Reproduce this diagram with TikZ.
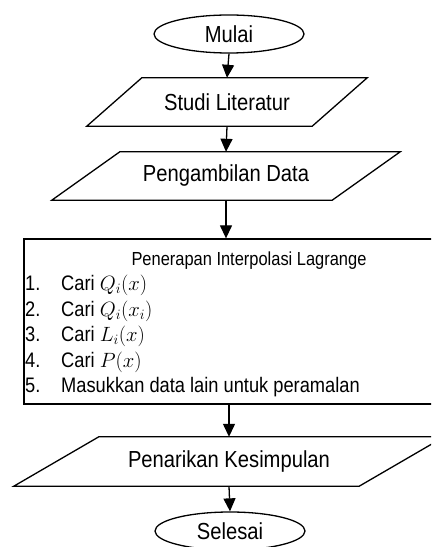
\documentclass[tikz,border=0pt]{standalone}
\usepackage{fontspec}
\setmainfont[FakeStretch=0.87]{Liberation Sans}
\usetikzlibrary{arrows.meta,shapes.geometric}
\newcommand\drawpara[2]{\draw[shp] ([xshift=-#2]#1.south west) -- ([xshift=-#2]#1.south east) -- ([xshift=#2]#1.north east) -- ([xshift=#2]#1.north west) -- cycle;}
\tikzset{
  shp/.style={draw=black, line width=1.3bp},
  big/.style={font=\fontsize{23.2bp}{28bp}\selectfont},
  term/.style={shp, big, ellipse, minimum width=150bp, minimum height=38bp, inner sep=0pt},
  iobox/.style={big, inner sep=0pt, minimum height=48bp},
  arr/.style={draw=black, line width=1.3bp, -{Triangle[width=12bp,length=13bp]}},
  item/.style={anchor=base west, inner sep=0pt, font=\fontsize{21bp}{25bp}\selectfont},
  ttl/.style={anchor=base, inner sep=0pt, font=\fontsize{18.9bp}{22bp}\selectfont}
}
\begin{document}
\begin{tikzpicture}[x=1bp,y=-1bp]
\clip (0,0) rectangle (431,547);
\fill[white] (0,0) rectangle (431,547);

\node[term] (mulai) at (229,34) {Mulai};

\node[iobox, minimum width=225bp] (studi) at (227,102) {Studi Literatur};
\drawpara{studi}{27.5bp}

\node[iobox, minimum width=280bp] (ambil) at (226,176) {Pengambilan Data};
\drawpara{ambil}{34bp}

\node[shp, minimum width=450bp, minimum height=165bp, inner sep=0pt] (box) at (249,321.5) {};
\node[ttl] (title) at (249,265.5) {Penerapan Interpolasi Lagrange};
\node[item] (n1) at (25,290.5) {1.};
\node[item] (t1) at (61,290.5) {Cari $Q_i(x)$};
\node[item] (n2) at (25,316) {2.};
\node[item] (t2) at (61,316) {Cari $Q_i(x_i)$};
\node[item] (n3) at (25,341.5) {3.};
\node[item] (t3) at (61,341.5) {Cari $L_i(x)$};
\node[item] (n4) at (25,367) {4.};
\node[item] (t4) at (61,367) {Cari $P(x)$};
\node[item] (n5) at (25,392.5) {5.};
\node[item] (t5) at (61,392.5) {Masukkan data lain untuk peramalan};

\node[iobox, minimum width=345bp, minimum height=49bp] (tarik) at (229,461.5) {Penarikan Kesimpulan};
\drawpara{tarik}{42.5bp}

\node[term] (selesai) at (230,531) {Selesai};

\draw[arr] (mulai.south) -- (studi.north);
\draw[arr] (studi.south) -- (ambil.north);
\draw[arr] (ambil.south) -- (ambil.south |- box.north);
\draw[arr] (tarik.north |- box.south) -- (tarik.north);
\draw[arr] (tarik.south) -- (selesai.north);
\end{tikzpicture}
\end{document}
